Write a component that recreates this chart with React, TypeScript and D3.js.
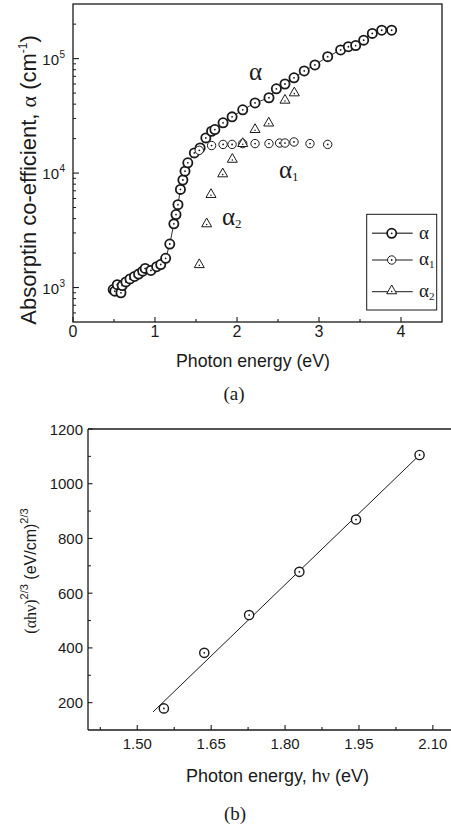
import React from 'react';
import * as d3 from 'd3';

// ---- Panel (a) data ----
const alphaE = [0.49, 0.51, 0.54, 0.585, 0.6, 0.645, 0.695, 0.75, 0.8, 0.85, 0.88, 0.95, 1.02, 1.07, 1.13, 1.18, 1.23, 1.256, 1.28, 1.31, 1.34, 1.366, 1.4, 1.48, 1.55, 1.62, 1.69, 1.73, 1.83, 1.94, 2.07, 2.22, 2.39, 2.48, 2.585, 2.695, 2.82, 2.95, 3.106, 3.264, 3.358, 3.447, 3.545, 3.65, 3.765, 3.886];
const alphaV = [960, 930, 1060, 900, 1040, 1120, 1190, 1250, 1310, 1390, 1470, 1410, 1520, 1590, 1800, 2400, 3600, 4340, 5300, 7200, 8700, 10400, 12300, 15000, 16600, 20300, 23200, 24000, 27500, 31000, 35700, 41000, 45500, 54500, 60000, 68000, 78000, 88000, 104000, 119000, 127000, 130000, 145000, 166000, 177000, 177000];
const alpha1E = [1.54, 1.69, 1.83, 1.94, 2.07, 2.22, 2.39, 2.52, 2.585, 2.695, 2.89, 3.106];
const alpha1V = [15800, 17400, 17800, 17800, 18100, 18100, 18100, 18300, 18300, 18700, 18100, 17800];
const alpha2E = [1.54, 1.63, 1.683, 1.826, 1.943, 2.07, 2.22, 2.387, 2.585, 2.699];
const alpha2V = [1610, 3660, 6600, 10000, 13400, 18400, 24400, 27800, 44000, 51000];
const xTicksA = [0, 1, 2, 3, 4];
const xMinorA = [0.5, 1.5, 2.5, 3.5];
const yTicksA = [1e3, 1e4, 1e5];
const yExpA = ['3', '4', '5'];
const yMinorA = [600, 700, 800, 900, 2000, 3000, 4000, 5000, 6000, 7000, 8000, 9000, 20000, 30000, 40000, 50000, 60000, 70000, 80000, 90000, 200000];

// ---- Panel (b) data ----
const tE = [1.554, 1.636, 1.727, 1.829, 1.944, 2.073];
const tV = [179, 382, 520, 678, 869, 1105];
const fitE = [1.532, 2.073];
const fitV = [166, 1105];
const xTicksB = [1.5, 1.65, 1.8, 1.95, 2.1];
const xMinorB = [1.425, 1.575, 1.725, 1.875, 2.025];
const yTicksB = [200, 400, 600, 800, 1000, 1200];
const yMinorB = [300, 500, 700, 900, 1100];

const SANS = '"Liberation Sans", Arial, sans-serif';
const SERIF = '"Liberation Serif", "Times New Roman", serif';
const INK = '#1a1a1a';

function CircleMark({ x, y, r, sw }: { x: number; y: number; r: number; sw: number }) {
  return (
    <g>
      <circle cx={x} cy={y} r={r} fill="white" stroke={INK} strokeWidth={sw} />
      <circle cx={x} cy={y} r={0.9} fill={INK} />
    </g>
  );
}

function TriMark({ x, y }: { x: number; y: number }) {
  const s = 5;
  const d = `M${x},${y - s} L${x + s},${y + s * 0.75} L${x - s},${y + s * 0.75} Z`;
  return (
    <g>
      <path d={d} fill="white" stroke={INK} strokeWidth={1} />
      <circle cx={x} cy={y + 1.5} r={0.8} fill={INK} />
    </g>
  );
}

export default function App() {
  const xA = d3.scaleLinear().domain([0, 4.5]).range([73, 442]);
  const yA = d3.scaleLog().domain([500, 3e5]).range([322, 4]);
  const xB = d3.scaleLinear().domain([1.4, 2.15]).range([88, 457.5]);
  const yB = d3.scaleLinear().domain([100, 1200]).range([730, 429]);

  const lineA = d3.line<number>().x((_, i) => xA(alphaE[i])).y((v) => yA(v));
  const fitLine = d3.line<number>().x((_, i) => xB(fitE[i])).y((v) => yB(v));
  const fmtB = d3.format('.2f');

  const [aL, aR] = xA.range();
  const [aB, aT] = yA.range();
  const [bL, bR] = xB.range();
  const [bB, bT] = yB.range();

  return (
    <svg width={451} height={827} style={{ position: 'absolute', left: 0, top: 0, background: 'white' }}>
      {/* ===== Panel (a) ===== */}
      <rect x={aL} y={aT} width={aR - aL} height={aB - aT} fill="none" stroke={INK} strokeWidth={1.3} />
      {xTicksA.map((t) => (
        <g key={'xa' + t}>
          <line x1={xA(t)} x2={xA(t)} y1={aB} y2={aB - 5} stroke={INK} strokeWidth={1.1} />
          <text x={xA(t)} y={337} textAnchor="middle" fontFamily={SANS} fontSize={16} fill={INK}>{t}</text>
        </g>
      ))}
      {xMinorA.map((t) => (
        <line key={'xam' + t} x1={xA(t)} x2={xA(t)} y1={aB} y2={aB - 3} stroke={INK} strokeWidth={1.1} />
      ))}
      {yTicksA.map((t, i) => (
        <g key={'ya' + t}>
          <line x1={aL} x2={aL + 6} y1={yA(t)} y2={yA(t)} stroke={INK} strokeWidth={1.1} />
          <text x={59} y={yA(t) + 6} textAnchor="end" fontFamily={SANS} fontSize={15} fill={INK}>10</text>
          <text x={59.5} y={yA(t) - 1} textAnchor="start" fontFamily={SANS} fontSize={10} fill={INK}>{yExpA[i]}</text>
        </g>
      ))}
      {yMinorA.map((t) => (
        <line key={'yam' + t} x1={aL} x2={aL + 3} y1={yA(t)} y2={yA(t)} stroke={INK} strokeWidth={1} />
      ))}

      <path d={lineA(alphaV) || ''} fill="none" stroke={INK} strokeWidth={0.9} />
      {alphaV.map((v, i) => (
        <CircleMark key={'a' + i} x={xA(alphaE[i])} y={yA(v)} r={4.6} sw={1.8} />
      ))}
      {alpha1V.map((v, i) => (
        <CircleMark key={'a1' + i} x={xA(alpha1E[i])} y={yA(v)} r={4.2} sw={1} />
      ))}
      {alpha2V.map((v, i) => (
        <TriMark key={'a2' + i} x={xA(alpha2E[i])} y={yA(v)} />
      ))}

      {/* annotations */}
      <text x={249} y={80} fontFamily={SERIF} fontSize={25} fill={INK}>α</text>
      <text x={279} y={178} fontFamily={SERIF} fontSize={25} fill={INK}>α<tspan fontSize={13} dy={3}>1</tspan></text>
      <text x={222} y={225} fontFamily={SERIF} fontSize={25} fill={INK}>α<tspan fontSize={13} dy={3}>2</tspan></text>

      {/* legend */}
      <rect x={366.7} y={214.3} width={70} height={95.7} fill="white" stroke={INK} strokeWidth={1} />
      <line x1={372} x2={412.7} y1={233.3} y2={233.3} stroke="#555" strokeWidth={1.6} />
      <CircleMark x={391.7} y={233.3} r={4.6} sw={1.8} />
      <text x={419} y={238.5} fontFamily={SERIF} fontSize={19} fill={INK}>α</text>
      <line x1={372} x2={412.7} y1={260} y2={260} stroke={INK} strokeWidth={1} />
      <CircleMark x={391.7} y={260} r={4.2} sw={1} />
      <text x={419} y={265} fontFamily={SERIF} fontSize={19} fill={INK}>α<tspan fontSize={11} dy={3}>1</tspan></text>
      <line x1={372} x2={412.7} y1={291.7} y2={291.7} stroke={INK} strokeWidth={1} />
      <TriMark x={391.7} y={290} />
      <text x={419} y={297} fontFamily={SERIF} fontSize={19} fill={INK}>α<tspan fontSize={11} dy={3}>2</tspan></text>

      {/* axis titles (a) */}
      <text x={253} y={367} textAnchor="middle" fontFamily={SANS} fontSize={19} textLength={154} lengthAdjust="spacingAndGlyphs" fill={INK}>Photon energy (eV)</text>
      <text transform="translate(36,180) rotate(-90)" textAnchor="middle" fontFamily={SANS} fontSize={22} fill={INK}>
        Absorptin co-efficient, <tspan fontFamily={SERIF}>α</tspan> (cm<tspan fontSize={12} dy={-9}>-1</tspan><tspan dy={9}>)</tspan>
      </text>
      <text x={234} y={400} textAnchor="middle" fontFamily={SERIF} fontSize={19} fill={INK}>(a)</text>

      {/* ===== Panel (b) ===== */}
      <line x1={bL} x2={bL} y1={bT} y2={bB} stroke={INK} strokeWidth={1.3} />
      <line x1={bL} x2={bR} y1={bB} y2={bB} stroke={INK} strokeWidth={1.3} />
      <line x1={bL} x2={bR} y1={bT} y2={bT} stroke={INK} strokeWidth={1.3} />
      <line x1={bR} x2={bR} y1={bT} y2={bB} stroke={INK} strokeWidth={1.3} />
      {xTicksB.map((t) => (
        <g key={'xb' + t}>
          <line x1={xB(t)} x2={xB(t)} y1={bB} y2={bB - 5} stroke={INK} strokeWidth={1.1} />
          <text x={xB(t)} y={749} textAnchor="middle" fontFamily={SANS} fontSize={15} fill={INK}>{fmtB(t)}</text>
        </g>
      ))}
      {xMinorB.map((t) => (
        <line key={'xbm' + t} x1={xB(t)} x2={xB(t)} y1={bB} y2={bB - 3} stroke={INK} strokeWidth={1.1} />
      ))}
      {yTicksB.map((t) => (
        <g key={'yb' + t}>
          <line x1={bL} x2={bL + 4.5} y1={yB(t)} y2={yB(t)} stroke={INK} strokeWidth={1.1} />
          <text x={83} y={yB(t) + 5.5} textAnchor="end" fontFamily={SANS} fontSize={15} fill={INK}>{t}</text>
        </g>
      ))}
      {yMinorB.map((t) => (
        <line key={'ybm' + t} x1={bL} x2={bL + 3} y1={yB(t)} y2={yB(t)} stroke={INK} strokeWidth={1} />
      ))}
      <path d={fitLine(fitV) || ''} fill="none" stroke={INK} strokeWidth={1} />
      {tV.map((v, i) => (
        <CircleMark key={'b' + i} x={xB(tE[i])} y={yB(v)} r={4.6} sw={1.4} />
      ))}

      <text x={277.5} y={782} textAnchor="middle" fontFamily={SANS} fontSize={18} fill={INK}>
        Photon energy, h<tspan fontFamily={SERIF}>ν</tspan> (eV)
      </text>
      <text transform="translate(36,571) rotate(-90)" textAnchor="middle" fontFamily={SANS} fontSize={16} fill={INK}>
        <tspan fontFamily={SERIF}>(αhν)</tspan><tspan fontSize={11} dy={-8}>2/3</tspan><tspan dy={8}> (eV/cm)</tspan><tspan fontSize={11} dy={-8}>2/3</tspan>
      </text>
      <text x={235} y={820} textAnchor="middle" fontFamily={SERIF} fontSize={19} fill={INK}>(b)</text>
    </svg>
  );
}
